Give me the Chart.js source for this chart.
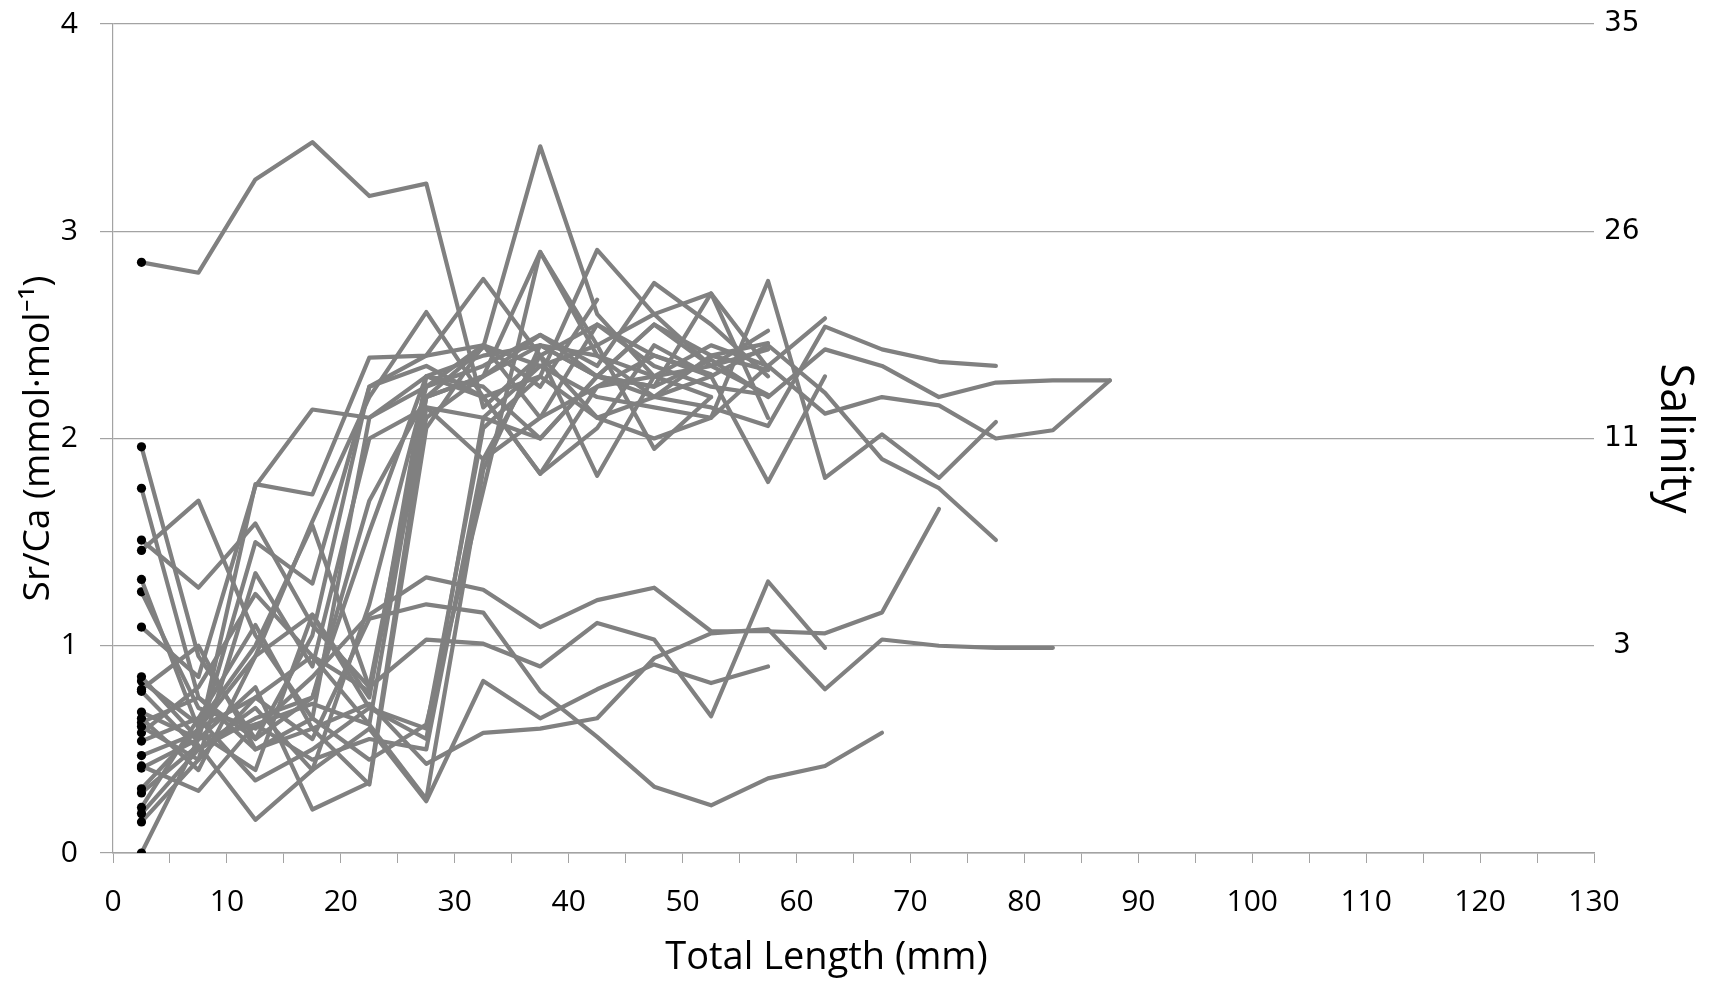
<!DOCTYPE html>
<html>
<head>
<meta charset="utf-8">
<title>Sr/Ca vs total length</title>
<script src="https://cdn.jsdelivr.net/npm/chart.js@4.4.1/dist/chart.umd.min.js"></script>
<style>
  html, body { margin: 0; padding: 0; background: #fff; }
  #wrap { width: 1712px; height: 982px; }
</style>
</head>
<body>
<div id="wrap"><canvas id="srca-chart" width="1712" height="982"></canvas></div>
<script>
// Sampling positions along the otolith, as total length (mm)
const lengthMm = [2.5, 7.5, 12.5, 17.5, 22.5, 27.5, 32.5, 37.5, 42.5, 47.5, 52.5, 57.5, 62.5, 67.5, 72.5, 77.5, 82.5, 87.5];

// Sr/Ca profiles (mmol/mol), one array per fish, starting at the core
const fish01 = [2.85, 2.80, 3.25, 3.43, 3.17, 3.23, 2.15, 2.40, 2.55, 2.35, 2.25, 2.21];
const fish02 = [1.96, 0.95, 0.55, 0.75, 1.55, 2.30, 2.40, 2.45, 2.30, 2.55, 2.35, 2.52];
const fish03 = [1.76, 0.75, 0.50, 0.65, 2.10, 2.25, 2.45, 2.25, 2.67];
const fish04 = [1.51, 1.28, 1.59, 1.10, 0.80, 2.20, 2.30, 2.45, 2.40, 2.30, 2.45, 2.35, 2.58];
const fish05 = [1.46, 1.70, 1.05, 0.65, 0.45, 0.62, 1.75, 2.90, 2.40, 2.20, 2.15, 2.06, 2.54, 2.43, 2.37, 2.35];
const fish06 = [1.32, 0.60, 0.75, 0.55, 1.13, 1.20, 1.16, 0.78, 0.56, 0.32, 0.23, 0.36, 0.42, 0.58];
const fish07 = [1.26, 0.70, 0.60, 0.85, 1.15, 1.33, 1.27, 1.09, 1.22, 1.28, 1.07, 1.07, 1.06, 1.16, 1.66];
const fish08 = [1.09, 0.85, 1.77, 2.14, 2.10, 2.30, 2.25, 2.00, 2.30, 2.25, 2.38, 2.20, 2.43, 2.35, 2.20, 2.27, 2.28, 2.28];
const fish09 = [0.85, 0.55, 1.78, 1.73, 2.39, 2.40, 2.45, 2.35, 2.20, 2.15, 2.10, 2.35, 2.12, 2.20, 2.16, 2.00, 2.04, 2.28];
const fish10 = [0.83, 0.62, 1.00, 1.58, 0.80, 1.03, 1.01, 0.90, 1.11, 1.03, 0.66, 1.31, 0.99];
const fish11 = [0.79, 1.00, 0.50, 0.60, 0.72, 0.43, 0.58, 0.60, 0.65, 0.94, 1.06, 1.08, 0.79, 1.03, 1.00, 0.99, 0.99];
const fish12 = [0.78, 0.50, 0.70, 0.40, 0.60, 0.25, 0.83, 0.65, 0.79, 0.91, 0.82, 0.90];
const fish13 = [0.68, 0.55, 1.50, 1.30, 2.25, 2.35, 2.20, 1.83, 2.05, 2.45, 2.30, 2.45, 2.22, 1.90, 1.76, 1.51];
const fish14 = [0.65, 0.40, 0.95, 1.60, 2.20, 2.61, 2.20, 2.30, 2.10, 2.00, 2.10, 2.76, 1.81, 2.02, 1.81, 2.08];
const fish15 = [0.63, 0.75, 0.55, 1.05, 2.25, 2.40, 2.77, 2.40, 2.10, 2.20, 2.30, 1.79, 2.30];
const fish16 = [0.61, 0.45, 0.75, 0.95, 0.62, 2.20, 2.44, 3.41, 2.60, 2.30, 2.20];
const fish17 = [0.58, 0.80, 1.25, 0.95, 0.78, 2.10, 2.30, 2.90, 2.45, 2.60, 2.70, 2.34];
const fish18 = [0.54, 0.65, 0.35, 0.50, 0.70, 0.60, 2.05, 2.30, 2.91, 2.60, 2.35, 2.21];
const fish19 = [0.47, 0.58, 0.40, 1.15, 0.75, 2.30, 2.20, 1.83, 2.25, 2.40, 2.31];
const fish20 = [0.42, 0.30, 0.62, 0.45, 0.55, 0.50, 1.90, 2.40, 1.82, 2.30, 2.35, 2.43];
const fish21 = [0.41, 0.55, 0.80, 0.21, 0.34, 2.15, 2.10, 2.35, 2.45, 1.95, 2.20];
const fish22 = [0.31, 0.60, 0.95, 1.15, 0.70, 0.55, 2.10, 2.00, 2.30, 2.25, 2.70, 2.10];
const fish23 = [0.29, 0.52, 0.16, 0.40, 1.20, 2.25, 2.35, 2.50, 2.35, 2.75, 2.55, 2.30];
const fish24 = [0.22, 0.65, 1.10, 0.60, 0.33, 2.05, 2.45, 2.10, 2.25, 2.30];
const fish25 = [0.19, 0.50, 0.65, 0.75, 1.70, 2.20, 2.30, 2.50, 2.30, 2.55, 2.40, 2.46];
const fish26 = [0.15, 0.45, 1.35, 0.90, 2.00, 2.15, 1.90, 2.10, 2.55, 2.40, 2.30];
const fish27 = [0.00, 0.55, 0.62, 0.72, 0.62, 0.26, 1.85, 2.45, 2.30, 2.20, 2.40, 2.33];

// Secondary axis: salinity equivalents at Sr/Ca = 1, 2, 3, 4
const srCaTicks = [1, 2, 3, 4];
const salinityLabels = ['3', '11', '26', '35'];

const xTitle = 'Total Length (mm)';

const profiles = [
  fish01, fish02, fish03, fish04, fish05, fish06, fish07, fish08, fish09,
  fish10, fish11, fish12, fish13, fish14, fish15, fish16, fish17, fish18,
  fish19, fish20, fish21, fish22, fish23, fish24, fish25, fish26, fish27,
];

const gridGrey = '#a3a3a3';
const lineGrey = '#808080';

const datasets = profiles.map((values, i) => ({
  label: `Fish ${i + 1}`,
  data: values.map((y, j) => ({ x: lengthMm[j], y })),
  borderColor: lineGrey,
  borderWidth: 4.2,
  borderJoinStyle: 'round',
  borderCapStyle: 'round',
  tension: 0,
  fill: false,
  // only the core (first) sample gets a black marker
  pointRadius: (c) => (c.dataIndex === 0 ? 4.6 : 0),
  pointHoverRadius: 0,
  pointBackgroundColor: '#000',
  pointBorderColor: '#000',
  pointBorderWidth: 0,
}));

// Vertical scales: drop the half-label padding so the plot can start right at the top
const noVerticalPadding = (scale) => {
  scale.paddingTop = 0;
  scale.paddingBottom = 0;
};

// x axis title sits a little left of the plot centre
const xTitlePlugin = {
  id: 'xTitle',
  afterDraw(chart) {
    const { ctx, chartArea, scales } = chart;
    const cx = (chartArea.left + chartArea.right) / 2 - 27;
    ctx.save();
    ctx.font = '38px "Open Sans"';
    ctx.fillStyle = '#000';
    ctx.textAlign = 'center';
    ctx.textBaseline = 'middle';
    ctx.fillText(xTitle, cx, scales.x.bottom - 24);
    ctx.restore();
  },
};

const ctx = document.getElementById('srca-chart');

new Chart(ctx, {
  type: 'line',
  data: { datasets },
  plugins: [xTitlePlugin],
  options: {
    responsive: false,
    animation: false,
    events: [],
    layout: { padding: { top: 24, left: 0, right: 0, bottom: 0 } },
    plugins: {
      legend: { display: false },
      tooltip: { enabled: false },
    },
    scales: {
      x: {
        type: 'linear',
        min: 0,
        max: 130,
        afterFit: (scale) => { scale.height = 129; },
        ticks: {
          stepSize: 5,
          autoSkip: false,
          maxRotation: 0,
          padding: 21,
          color: '#000',
          font: { family: 'Open Sans', size: 30 },
          callback: (v) => (v % 10 === 0 ? String(v) : ''),
        },
        grid: {
          drawOnChartArea: false,
          drawTicks: true,
          tickLength: 10,
          color: gridGrey,
        },
        border: { display: true, color: gridGrey, width: 1.5 },
        title: { display: false },
      },
      y: {
        position: 'left',
        min: 0,
        max: 4,
        afterFit: (scale) => {
          scale.width = 113;
          noVerticalPadding(scale);
        },
        ticks: {
          stepSize: 1,
          padding: 22,
          color: '#000',
          font: { family: 'Open Sans', size: 30 },
        },
        grid: {
          color: gridGrey,
          lineWidth: 1.2,
          drawTicks: true,
          tickLength: 13,
        },
        border: { display: true, color: gridGrey, width: 1.2 },
        title: {
          display: true,
          text: 'Sr/Ca (mmol·mol⁻¹)',
          color: '#000',
          font: { family: 'Open Sans', size: 37 },
          padding: { top: 16, bottom: 0 },
        },
      },
      salinity: {
        position: 'right',
        min: 0,
        max: 4,
        afterFit: (scale) => {
          scale.width = 118;
          noVerticalPadding(scale);
        },
        afterBuildTicks: (scale) => {
          scale.ticks = srCaTicks.map((value) => ({ value }));
        },
        ticks: {
          padding: 10,
          crossAlign: 'center',
          color: '#000',
          font: { family: 'DejaVu Sans', size: 28 },
          callback: (v) => {
            const k = srCaTicks.indexOf(v);
            return k >= 0 ? salinityLabels[k] : '';
          },
        },
        grid: { display: false, drawTicks: false },
        border: { display: false },
        title: {
          display: true,
          text: 'Salinity',
          color: '#000',
          font: { family: 'Open Sans', size: 45 },
          padding: { top: 11, bottom: 0 },
        },
      },
    },
  },
});
</script>
</body>
</html>
